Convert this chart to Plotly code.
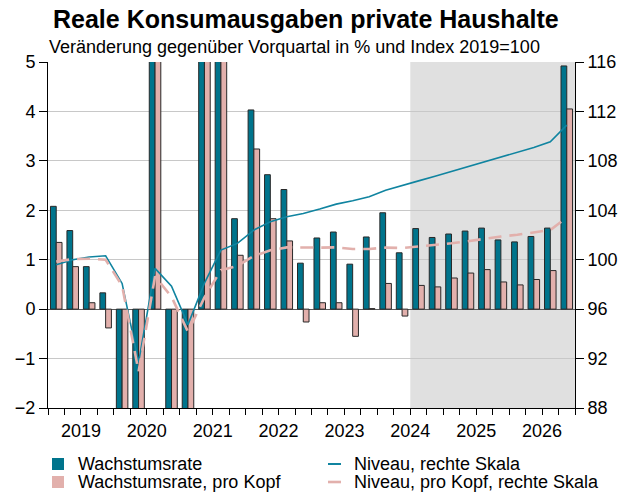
import plotly.graph_objects as go

years = ["2019", "2020", "2021", "2022", "2023", "2024", "2025", "2026"]
quarters = list(range(32))

wachstum = [2.08, 1.59, 0.86, 0.33, -8.8, -25.0, 34.0, -5.5, -12.5, 14.0, 10.0, 1.83,
            4.03, 2.72, 2.42, 0.93, 1.44, 1.56, 0.91, 1.46, 1.95, 1.14, 1.63, 1.45,
            1.52, 1.58, 1.64, 1.40, 1.36, 1.47, 1.64, 4.92]
wachstum_pk = [1.35, 0.86, 0.13, -0.38, -9.5, -26.0, 33.0, -6.0, -12.5, 13.0, 9.0, 1.09,
               3.24, 1.83, 1.38, -0.26, 0.13, 0.13, -0.55, 0.01, 0.52, -0.14, 0.48, 0.45,
               0.63, 0.73, 0.80, 0.55, 0.49, 0.60, 0.78, 4.05]
niveau = [99.6, 100.0, 100.22, 100.32, 98.08, 91.7, 99.3, 97.85, 94.75, 98.1, 100.78, 101.32,
          102.4, 103.07, 103.47, 103.74, 104.1, 104.5, 104.77, 105.09, 105.63, 105.98, 106.38, 106.76,
          107.15, 107.56, 107.97, 108.33, 108.69, 109.08, 109.54, 110.89]
niveau_pk = [99.85, 100.05, 100.08, 100.0, 97.9, 90.95, 98.65, 97.0, 94.17, 96.95, 99.15, 99.5,
             100.3, 100.76, 101.0, 100.96, 100.98, 101.0, 100.87, 100.87, 100.98, 100.95, 101.07, 101.18,
             101.33, 101.5, 101.72, 101.88, 102.02, 102.2, 102.4, 103.42]

series_names = ["Wachstumsrate", "Wachstumsrate, pro Kopf", "Niveau, rechte Skala", "Niveau, pro Kopf, rechte Skala"]
title_text = "Reale Konsumausgaben private Haushalte"
subtitle_text = "Veränderung gegenüber Vorquartal in % und Index 2019=100"

TEAL = "rgb(0,116,140)"
TEAL_LINE = "rgb(16,132,160)"
PINK = "rgb(226,176,172)"
OUTLINE = "rgb(40,40,40)"
FONT = "Liberation Sans, Arial, sans-serif"

# page body margin is removed by the post script, so figure pixels == page pixels
W, H = 634, 492
L, R, T, B = 48, 575, 62, 408
def px(x):
    return (x - L) / (R - L)
def py(y):
    return (B - y) / (B - T)

fig = go.Figure()
fig.add_trace(go.Bar(x=quarters, y=wachstum, name=series_names[0], marker=dict(color=TEAL, line=dict(color=OUTLINE, width=1))))
fig.add_trace(go.Bar(x=quarters, y=wachstum_pk, name=series_names[1], marker=dict(color=PINK, line=dict(color=OUTLINE, width=1))))
fig.add_trace(go.Scatter(x=quarters, y=niveau, name=series_names[2], yaxis="y2", mode="lines", line=dict(color=TEAL_LINE, width=1.6)))
fig.add_trace(go.Scatter(x=quarters, y=niveau_pk, name=series_names[3], yaxis="y2", mode="lines", line=dict(color=PINK, width=2.6, dash="13px,8px")))
# invisible helper trace for the year label axis
fig.add_trace(go.Scatter(x=[0], y=[0], xaxis="x2", mode="markers", marker=dict(opacity=0), showlegend=False, hoverinfo="skip"))

year_bounds = [-0.5 + 4 * i for i in range(9)]
year_centers = [1.5 + 4 * i for i in range(8)]
quarter_bounds = [-0.5 + i for i in range(33)]

shapes = [dict(type="rect", xref="x", yref="paper", x0=21.5, x1=31.5, y0=0, y1=1,
               fillcolor="rgb(224,224,224)", line=dict(width=0), layer="below")]
# legend symbols
shapes.append(dict(type="rect", xref="paper", yref="paper", x0=px(52), x1=px(64), y0=py(470), y1=py(458), fillcolor=TEAL, line=dict(width=0)))
shapes.append(dict(type="rect", xref="paper", yref="paper", x0=px(52), x1=px(64), y0=py(488), y1=py(476), fillcolor=PINK, line=dict(width=0)))
shapes.append(dict(type="line", xref="paper", yref="paper", x0=px(328), x1=px(341), y0=py(464), y1=py(464), line=dict(color=TEAL_LINE, width=2)))
shapes.append(dict(type="line", xref="paper", yref="paper", x0=px(328), x1=px(341), y0=py(482), y1=py(482), line=dict(color=PINK, width=2.6)))

annotations = [
    dict(text="<b>" + title_text + "</b>", xref="paper", yref="paper", x=px(51), y=py(19), xanchor="left", yanchor="middle",
         showarrow=False, font=dict(size=25, family=FONT, color="black")),
    dict(text=subtitle_text, xref="paper", yref="paper", x=px(47), y=py(47), xanchor="left", yanchor="middle",
         showarrow=False, font=dict(size=18, family=FONT, color="black")),
]
for name, xx, yy in [(series_names[0], 76, 464), (series_names[1], 76, 482), (series_names[2], 352, 464), (series_names[3], 352, 482)]:
    annotations.append(dict(text=name, xref="paper", yref="paper", x=px(xx), y=py(yy), xanchor="left", yanchor="middle",
                            showarrow=False, font=dict(size=18, family=FONT, color="black")))

fig.update_layout(
    width=W, height=H,
    margin=dict(l=L, r=W - R, t=T, b=H - B),
    plot_bgcolor="white", paper_bgcolor="white",
    font=dict(family=FONT, size=18, color="black"),
    barmode="group", bargap=0.3, bargroupgap=0,
    showlegend=False,
    xaxis=dict(range=[-0.5, 31.5], tickvals=year_bounds, ticktext=[""] * 9, ticks="outside", ticklen=12,
               tickcolor="black", showline=True, linecolor="black", linewidth=1, showgrid=False, zeroline=False,
               automargin=False,
               minor=dict(tickvals=quarter_bounds, ticks="outside", ticklen=6, tickcolor="black", showgrid=False)),
    xaxis2=dict(range=[-0.5, 31.5], overlaying="x", side="bottom", tickvals=year_centers, ticktext=years,
                ticks="outside", ticklen=6, tickcolor="rgba(0,0,0,0)", showline=False, showgrid=False, zeroline=False,
                automargin=False, tickfont=dict(size=18)),
    yaxis=dict(range=[-2, 5], dtick=1, ticks="outside", ticklen=8, tickcolor="black", showline=True, linecolor="black",
               gridcolor="rgb(200,200,200)", gridwidth=1, zeroline=True, zerolinecolor="rgb(90,90,90)", zerolinewidth=1,
               automargin=False, tickfont=dict(size=18)),
    yaxis2=dict(range=[88, 116], dtick=4, overlaying="y", side="right", ticks="outside", ticklen=8, tickcolor="black",
                showline=True, linecolor="black", showgrid=False, zeroline=False, automargin=False, tickfont=dict(size=18)),
    shapes=shapes,
    annotations=annotations,
)

fig.write_html("out.html", config={"displayModeBar": False, "staticPlot": True},
               post_script="document.body.style.margin='0';document.body.style.overflow='hidden';")
